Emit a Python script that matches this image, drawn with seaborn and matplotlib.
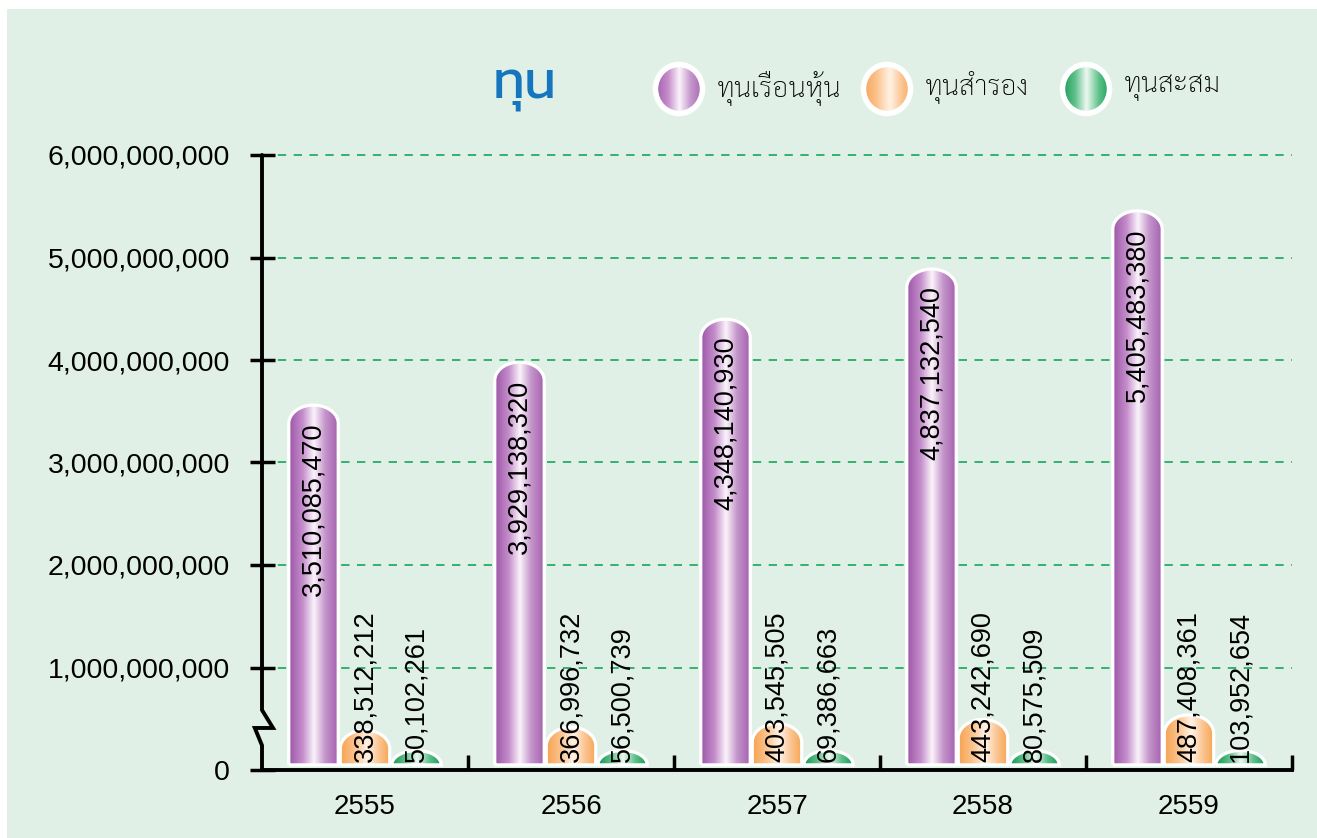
# ---------------- importing modules ----------------
import numpy as np
import pandas as pd
import matplotlib
matplotlib.use('Agg')
import matplotlib.pyplot as plt
import seaborn as sns
from matplotlib.path import Path
from matplotlib.patches import PathPatch, Ellipse, Rectangle
from matplotlib.lines import Line2D
from matplotlib.colors import LinearSegmentedColormap
from matplotlib import font_manager, transforms
from matplotlib.ft2font import FT2Font

# ---------------- data ---------------------
years = ['2555', '2556', '2557', '2558', '2559']
share_capital = [3510085470, 3929138320, 4348140930, 4837132540, 5405483380]
reserve_fund = [338512212, 366996732, 403545505, 443242690, 487408361]
accum_fund = [50102261, 56500739, 69386663, 80575509, 103952654]
series_names = ['ทุนเรือนหุ้น', 'ทุนสำรอง', 'ทุนสะสม']
chart_title = 'ทุน'
y_ticks = [0, 1e9, 2e9, 3e9, 4e9, 5e9, 6e9]

df = pd.DataFrame({
    'year': years * 3,
    'series': [series_names[0]] * 5 + [series_names[1]] * 5 + [series_names[2]] * 5,
    'value': share_capital + reserve_fund + accum_fund,
})

# ---------------- fonts ---------------------
sns.set_style('white')
thai_fams = []
for f in font_manager.fontManager.ttflist:
    try:
        if 0x0E17 in FT2Font(f.fname).get_charmap() and f.name not in thai_fams:
            thai_fams.append(f.name)
    except Exception:
        pass
plt.rcParams['font.family'] = ['Liberation Sans', 'DejaVu Sans']
plt.rcParams['text.color'] = 'black'
plt.rcParams['xtick.color'] = 'black'
plt.rcParams['ytick.color'] = 'black'
legend_fam = [f for f in ['Sarabun', 'Noto Sans Thai Looped', 'Loma'] if f in thai_fams] + thai_fams[:1] + ['DejaVu Sans']
title_fam = [f for f in ['Kanit', 'Prompt', 'Noto Sans Thai', 'Loma'] if f in thai_fams] + thai_fams[:1] + ['DejaVu Sans']

# ---------------- colours ---------------------
bg = '#e1f0e6'
cmaps = [
    LinearSegmentedColormap.from_list('p', [(0, '#9d55a7'), (0.28, '#c58fcc'), (0.5, '#fbf4fb'),
                                            (0.72, '#c597cb'), (1, '#a35cad')]),
    LinearSegmentedColormap.from_list('o', [(0, '#f6a24f'), (0.28, '#fbc18a'), (0.55, '#fff3e6'),
                                            (0.78, '#fbc592'), (1, '#f6a552')]),
    LinearSegmentedColormap.from_list('g', [(0, '#10994f'), (0.28, '#62c08c'), (0.5, '#eef9f2'),
                                            (0.75, '#5cc088'), (1, '#0f9a52')]),
]
grad = np.linspace(0, 1, 256).reshape(1, -1)

# ---------------- figure ---------------------
ymax = 6.05e9
ax_h = 615 * ymax / 6e9
fig = plt.figure(figsize=(13.17, 8.38), dpi=100, facecolor='white')
fig.add_artist(Rectangle((7 / 1317, 0), 1, 1 - 9 / 838, transform=fig.transFigure,
                         facecolor=bg, edgecolor='none', zorder=-10))
ax = fig.add_axes([262 / 1317, 1 - 770 / 838, 1030 / 1317, ax_h / 838])
ax.set_facecolor('none')

sns.barplot(data=df, x='year', y='value', hue='series', hue_order=series_names,
            palette=['#a35cad', '#f6a24f', '#10994f'], width=0.75, gap=0.04,
            legend=False, ax=ax)

base = 0.05e9
cap = 0.18e9
for p in list(ax.patches):
    x0 = p.get_x()
    w = p.get_width()
    val = p.get_height()
    xc = x0 + w / 2
    k = int(round((xc - round(xc)) / 0.25)) + 1
    p.set_visible(False)
    # tiny bars still show a small dome
    top = base + max(val, 0.14e9)
    c = min(cap, top - base)
    t = np.linspace(np.pi, 0, 60)
    verts = [(x0, base), (x0, top - c)]
    verts += list(zip(xc + w / 2 * np.cos(t), top - c + c * np.sin(t)))
    verts += [(x0 + w, base), (x0, base)]
    path = Path(verts)
    clip = PathPatch(path, transform=ax.transData, facecolor='none', edgecolor='none')
    ax.add_patch(clip)
    im = ax.imshow(grad, cmap=cmaps[k], extent=(x0, x0 + w, base, top), aspect='auto',
                   interpolation='bicubic', zorder=2)
    im.set_clip_path(clip)
    ax.add_patch(PathPatch(path, facecolor='none', edgecolor='white', lw=2.3, zorder=3))
    label = f'{int(val):,}'
    if k == 0:
        ax.text(xc, top - 0.17e9, label, rotation=90, ha='center', va='top',
                fontsize=19.5, color='black', zorder=4)
    else:
        ax.text(xc, base + 0.03e9, label, rotation=90, ha='center', va='bottom',
                fontsize=19.5, color='black', zorder=4)

ax.set_xlim(-0.5, 4.5)
ax.set_ylim(0, ymax)
ax.set_yticks(y_ticks)
ax.set_yticklabels([f'{int(v):,}' for v in y_ticks], fontsize=20.5)
ax.set_xlabel('')
ax.set_ylabel('')
ax.tick_params(axis='x', which='major', length=0, pad=17, labelsize=20, labelcolor='black')
ax.set_xticks(np.arange(0.5, 5, 1), minor=True)
ax.tick_params(axis='x', which='minor', bottom=True, direction='in', length=11, width=2.5,
               color='black')
ax.tick_params(axis='y', left=True, direction='inout', length=18, width=2.5, color='black',
               pad=14, labelcolor='black')
ax.yaxis.grid(True, color='#18a55a', linestyle=(0, (5, 4.5)), lw=1.2)
ax.xaxis.grid(False)
ax.set_axisbelow(True)
for s in ['top', 'right', 'left']:
    ax.spines[s].set_visible(False)
ax.spines['bottom'].set_linewidth(2.8)
ax.spines['bottom'].set_color('black')
ax.spines['bottom'].set_zorder(5)

# broken y axis line
blend = transforms.blended_transform_factory(ax.transAxes, ax.transData)
yx = [0, 0, 0.0107, -0.007, 0, 0]
yy = [6e9, 0.585e9, 0.41e9, 0.41e9, 0.24e9, 0]
ax.add_line(Line2D(yx, yy, transform=blend, color='black', lw=2.8, clip_on=False,
                   solid_joinstyle='miter', zorder=5))

# ---------------- title and legend ---------------------
fig.text(525 / 1317, 1 - 88 / 838, chart_title, family=title_fam, fontsize=38,
         color='#1576bd', ha='center', va='center')
leg_x = [679, 887, 1086]
for k, name in enumerate(series_names):
    lax = fig.add_axes([(leg_x[k] - 28) / 1317, 1 - (89 + 28) / 838, 56 / 1317, 56 / 838])
    lax.set_xlim(-1, 1)
    lax.set_ylim(-1, 1)
    lax.axis('off')
    e = Ellipse((0, 0), 1.68, 1.75, facecolor='none', edgecolor='none')
    lax.add_patch(e)
    im = lax.imshow(grad, cmap=cmaps[k], extent=(-0.9, 0.9, -0.9, 0.9), aspect='auto',
                    interpolation='bicubic')
    im.set_clip_path(e)
    lax.add_patch(Ellipse((0, 0), 1.68, 1.75, facecolor='none', edgecolor='white', lw=4))
    lax.set_xlim(-1, 1)
    lax.set_ylim(-1, 1)
    fig.text((leg_x[k] + 38) / 1317, 1 - 88 / 838, name, family=legend_fam, fontsize=20,
             fontweight='light', color='black', ha='left', va='center')

plt.savefig('out.png', dpi=100)
